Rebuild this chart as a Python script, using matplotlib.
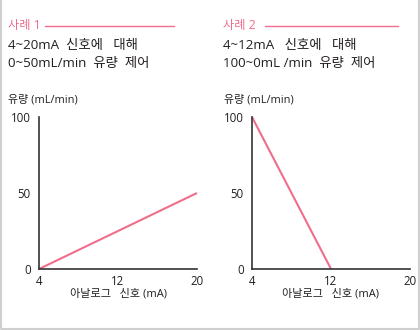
import matplotlib
matplotlib.use("Agg")
import matplotlib.pyplot as plt
from matplotlib.lines import Line2D

plt.rcParams['font.family'] = ['Open Sans', 'Noto Sans CJK KR', 'DejaVu Sans']

W, H = 420, 330

# data
x_ticks = [4, 12, 20]
y_ticks = [0, 50, 100]
case1_signal = [4, 20]
case1_flow = [0, 50]
case2_signal = [4, 12]
case2_flow = [100, 0]

case_titles = ["사례 1", "사례 2"]
case_lines = [["4~20mA  신호에   대해", "0~50mL/min  유량  제어"],
              ["4~12mA   신호에   대해", "100~0mL /min  유량  제어"]]
y_label = "유량 (mL/min)"
x_label = "아날로그   신호 (mA)"

PINK = "#f06d8c"
TEXT = "#231f20"
AXIS = "#333333"

fig = plt.figure(figsize=(W / 100, H / 100), dpi=100)
fig.patch.set_facecolor("white")


def fx(px):
    return px / W


def fy(py):
    return 1 - py / H


# outer frame (left, bottom, right)
frame = Line2D([fx(0.8), fx(0.8), fx(W - 1.2), fx(W - 1.2)],
               [fy(0), fy(H - 1.5), fy(H - 1.5), fy(0)],
               color="#cfcfcf", lw=1.5, transform=fig.transFigure)
fig.add_artist(frame)

panels = [
    dict(x0=8, ax_left=39, rule=(45, 174), sx=case1_signal, sy=case1_flow),
    dict(x0=223, ax_left=252, rule=(265, 398), sx=case2_signal, sy=case2_flow),
]

ax_top, ax_bottom, ax_w = 117, 269, 158

for i, p in enumerate(panels):
    # header
    fig.text(fx(p["x0"]), fy(26), case_titles[i], color=PINK, fontsize=8.8,
             va="center", ha="left")
    fig.add_artist(Line2D([fx(p["rule"][0]), fx(p["rule"][1])], [fy(26), fy(26)],
                          color=PINK, lw=1.0, transform=fig.transFigure))
    fig.text(fx(p["x0"]), fy(46), case_lines[i][0], color=TEXT, fontsize=9.6,
             va="center", ha="left")
    fig.text(fx(p["x0"]), fy(63), case_lines[i][1], color=TEXT, fontsize=9.6,
             va="center", ha="left")
    fig.text(fx(p["x0"] + 0.5), fy(100), y_label, color=TEXT, fontsize=7.9,
             va="center", ha="left")

    ax = fig.add_axes([fx(p["ax_left"]), fy(ax_bottom), ax_w / W,
                       (ax_bottom - ax_top) / H])
    ax.set_facecolor("none")
    ax.plot(p["sx"], p["sy"], color=PINK, lw=1.5, solid_capstyle="butt",
            clip_on=False)
    ax.set_xlim(4, 20)
    ax.set_ylim(0, 100)
    ax.set_xticks(x_ticks)
    ax.set_yticks(y_ticks)
    ax.tick_params(length=0, labelsize=8.3, colors=TEXT)
    ax.tick_params(axis="y", pad=6)
    ax.tick_params(axis="x", pad=4.5)
    for s in ("top", "right"):
        ax.spines[s].set_visible(False)
    for s in ("left", "bottom"):
        ax.spines[s].set_color(AXIS)
        ax.spines[s].set_linewidth(1.2)
    ax.text(0.5, -0.165, x_label, transform=ax.transAxes, ha="center",
            va="center", fontsize=8, color=TEXT)

fig.savefig("out.png", dpi=100, facecolor="white")
